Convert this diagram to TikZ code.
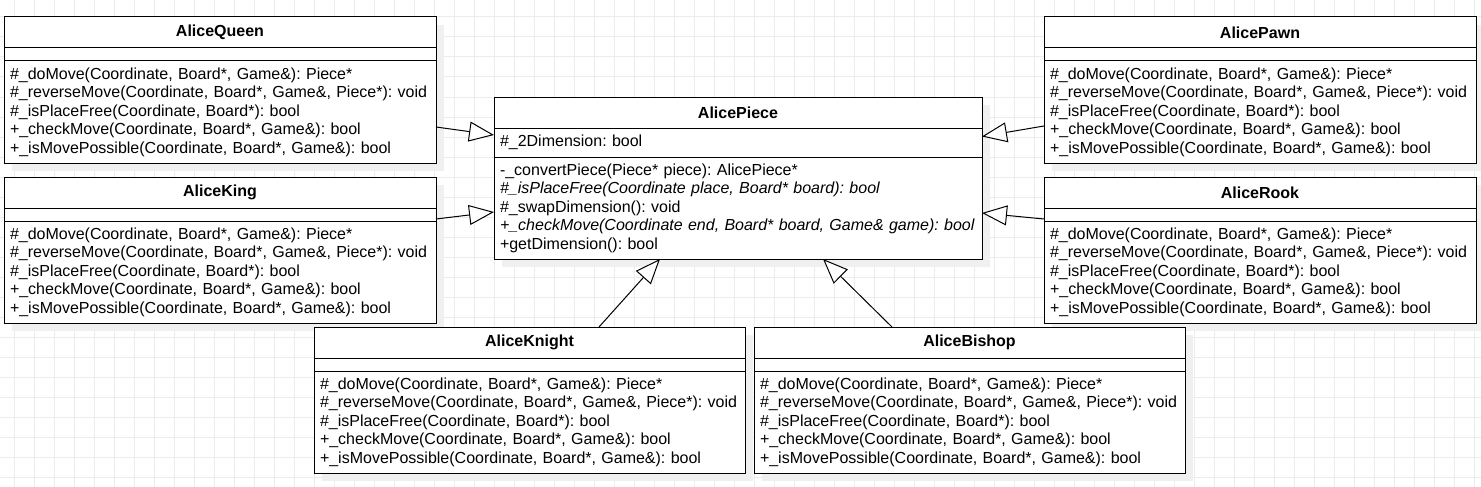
\documentclass[tikz,border=0pt]{standalone}
\usepackage{fontspec}
\setmainfont{Liberation Sans}
\usetikzlibrary{positioning,calc,arrows.meta,shadows}
\frenchspacing

\definecolor{gridgray}{RGB}{236,236,236}
\definecolor{shadowgray}{RGB}{240,240,240}

\newcommand{\umlfont}{\fontsize{16pt}{18.5pt}\selectfont}
% the five operations every piece class overrides
\newcommand{\moveops}{%
\#\_doMove(Coordinate, Board*, Game\&): Piece*\\
\#\_reverseMove(Coordinate, Board*, Game\&, Piece*): void\\
\#\_isPlaceFree(Coordinate, Board*): bool\\
+\_checkMove(Coordinate, Board*, Game\&): bool\\
+\_isMovePossible(Coordinate, Board*, Game\&): bool}

\tikzset{
  clsbox/.style = {draw, fill=white, line width=1pt, outer sep=0pt, inner sep=0pt,
    drop shadow={shadow xshift=8pt, shadow yshift=-8pt, fill=shadowgray, opacity=1}},
  clsname/.style = {clsbox, minimum width=#1, minimum height=31pt, font=\umlfont\bfseries},
  clsgap/.style = {clsbox, minimum width=#1, minimum height=13pt},
  clslist/.style = {clsbox, text width=#1, inner xsep=6pt, align=left, minimum height=102pt, font=\umlfont},
  inherits/.style = {-{Triangle[open, fill=white, length=25pt, width=20pt]}, line width=1pt},
  gridline/.style = {gridgray, line width=1pt}
}

\begin{document}
\begin{tikzpicture}[x=1pt, y=-1pt]
    \fill[white] (0,0) rectangle (1481,487);
    \useasboundingbox (0,0) rectangle (1481,487);
    \foreach \gx in {14,34,...,1474} \draw[gridline] (\gx,0) -- (\gx,487);
    \foreach \gy in {17,37,...,477} \draw[gridline] (0,\gy) -- (1481,\gy);

    % base class
    \node[clsname=488pt, anchor=north west] (piece) at (494,97) {AlicePiece};
    \node[clslist=476pt, minimum height=29pt, below=0pt of piece] (pieceatt) {\#\_2Dimension: bool};
    \node[clslist=476pt, below=0pt of pieceatt] (pieceops) {-\_convertPiece(Piece* piece): AlicePiece*\\
        \textit{\#\_isPlaceFree(Coordinate place, Board* board): bool}\\
        \#\_swapDimension(): void\\
        \textit{+\_checkMove(Coordinate end, Board* board, Game\& game): bool}\\
        +getDimension(): bool};

    % left column
    \node[clsname=432pt, anchor=north west] (queen) at (4,17) {AliceQueen};
    \node[clsgap=432pt, below=0pt of queen] (queenatt) {};
    \node[clslist=420pt, below=0pt of queenatt] (queenops) {\moveops};
    \node[clsname=432pt, anchor=north west] (king) at (4,177) {AliceKing};
    \node[clsgap=432pt, below=0pt of king] (kingatt) {};
    \node[clslist=420pt, below=0pt of kingatt] (kingops) {\moveops};

    % right column
    \node[clsname=432pt, anchor=north west] (pawn) at (1044,17) {AlicePawn};
    \node[clsgap=432pt, below=0pt of pawn] (pawnatt) {};
    \node[clslist=420pt, below=0pt of pawnatt] (pawnops) {\moveops};
    \node[clsname=432pt, anchor=north west] (rook) at (1044,177) {AliceRook};
    \node[clsgap=432pt, below=0pt of rook] (rookatt) {};
    \node[clslist=420pt, below=0pt of rookatt] (rookops) {\moveops};

    % bottom row
    \node[clsname=431pt, anchor=north west] (knight) at (314,327) {AliceKnight};
    \node[clsgap=431pt, below=0pt of knight] (knightatt) {};
    \node[clslist=419pt, below=0pt of knightatt] (knightops) {\moveops};
    \node[clsname=431pt, anchor=north west] (bishop) at (754,327) {AliceBishop};
    \node[clsgap=431pt, below=0pt of bishop] (bishopatt) {};
    \node[clslist=419pt, below=0pt of bishopatt] (bishopops) {\moveops};

    \draw[inherits] ($(queenops.east)+(0,15)$) -- ($(pieceatt.west)+(0,-7.5)$);
    \draw[inherits] ($(kingatt.east)+(0,4.5)$) -- ($(pieceops.west)+(0,4)$);
    \draw[inherits] ($(pawnops.west)+(0,14)$) -- ($(pieceatt.east)+(0,-6)$);
    \draw[inherits] ($(rookatt.west)+(0,4.5)$) -- ($(pieceops.east)+(0,5)$);
    \draw[inherits] ($(knight.north)+(69.5,0)$) -- ($(pieceops.south)+(-78,0)$);
    \draw[inherits] ($(bishop.north)+(-77.5,0)$) -- ($(pieceops.south)+(85,0)$);
\end{tikzpicture}
\end{document}
